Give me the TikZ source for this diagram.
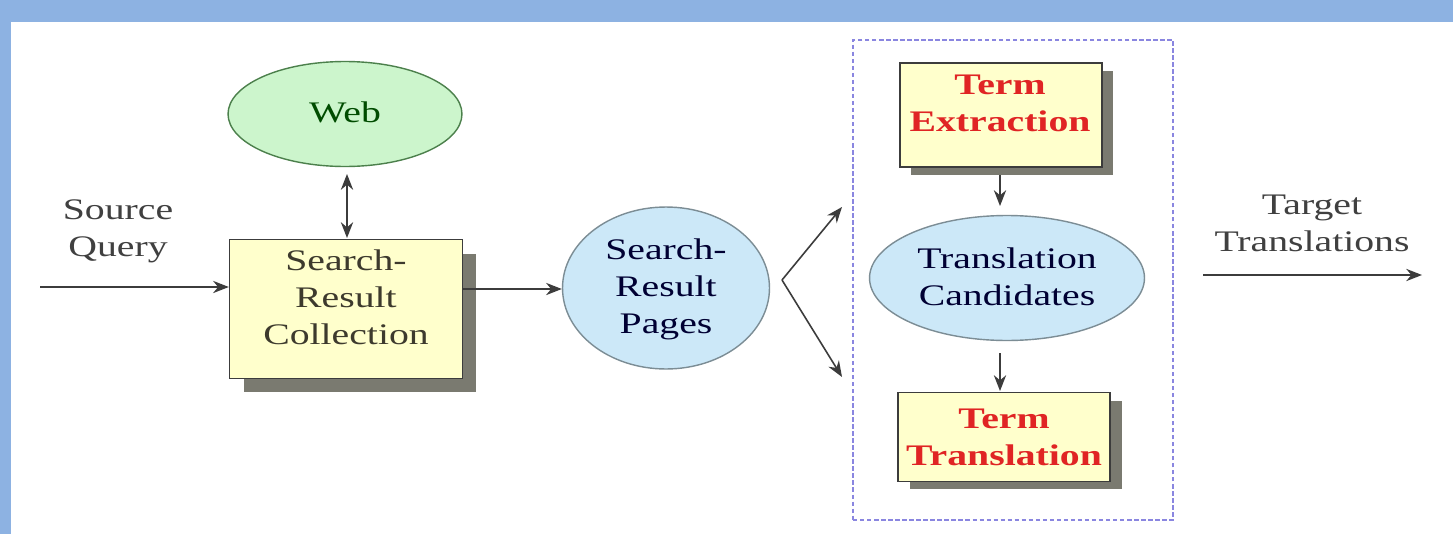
\documentclass[tikz,border=0pt]{standalone}
\usepackage{fontspec}
\setmainfont[FakeStretch=1.33]{Liberation Serif}
\usetikzlibrary{shapes.geometric,arrows.meta}
\definecolor{frameblue}{HTML}{8DB2E2}
\definecolor{boxfill}{HTML}{FFFFCC}
\definecolor{webfill}{HTML}{CCF5CC}
\definecolor{bluefill}{HTML}{CCE8F8}
\definecolor{linegray}{HTML}{3C3C3C}
\definecolor{shadowgray}{HTML}{7A7A70}
\definecolor{termred}{HTML}{E02424}
\definecolor{dashblue}{HTML}{8A86E0}
\tikzset{
  every node/.style={font=\fontsize{17}{21}\selectfont},
  boxnode/.style={draw=linegray, line width=0.8pt, fill=boxfill, rectangle, inner sep=0pt},
  shadowbox/.style={fill=shadowgray, draw=none, rectangle, inner sep=0pt},
  ellnode/.style={ellipse, draw, line width=0.8pt, inner sep=0pt},
  arr/.style={draw=linegray, line width=0.9pt, -{Stealth[length=9pt,width=7pt]}},
  darr/.style={draw=linegray, line width=0.9pt, {Stealth[length=9pt,width=7pt]}-{Stealth[length=9pt,width=7pt]}},
  txt/.style={align=center, inner sep=0pt},
  redtxt/.style={align=center, inner sep=0pt, text=termred, font=\fontsize{17}{21}\selectfont\bfseries},
}
\begin{document}
\begin{tikzpicture}[x=0.02cm, y=-0.02cm]
\useasboundingbox (0,0) rectangle (1453,534);
% frame
\fill[white] (0,0) rectangle (1453,534);
\fill[frameblue] (0,0) rectangle (1453,22);
\fill[frameblue] (0,0) rectangle (11,534);

% Web
\node[ellnode, draw=black!50!green!40!gray, fill=webfill, minimum width=4.68cm, minimum height=2.1cm] (web) at (345,114) {};
\node[txt, text=black!70!green] (webtxt) at (345,112) {Web};

% Search-Result Collection
\node[shadowbox, minimum width=4.66cm, minimum height=2.78cm] (srcshadow) at (360,323) {};
\node[boxnode, minimum width=4.66cm, minimum height=2.78cm] (src) at (346,309) {};
\node[txt, text=black!75!olive] (srctxt) at (346,297) {Search-\\Result\\Collection};

% Source query label
\node[txt, text=black!75] (srcq) at (118,231) {Source\\Query};
\coordinate (inStart) at (40,287);

% Search-Result Pages
\node[ellnode, draw=black!40!cyan!30!gray, fill=bluefill, minimum width=4.14cm, minimum height=3.24cm] (srp) at (666,288) {};
\node[txt, text=black!80!blue] (srptxt) at (666,289) {Search-\\Result\\Pages};

% dashed container
\node[draw=dashblue, dash pattern=on 2.5pt off 1.5pt, line width=1pt, rectangle, inner sep=0pt, minimum width=6.4cm, minimum height=9.6cm] (group) at (1013,280) {};

% Term Extraction
\node[shadowbox, minimum width=4.04cm, minimum height=2.08cm] (teshadow) at (1012,123) {};
\node[boxnode, minimum width=4.04cm, minimum height=2.08cm] (te) at (1001,115) {};
\node[redtxt] (tetxt) at (1000,103) {Term\\Extraction};

% Translation Candidates
\node[ellnode, draw=black!40!cyan!30!gray, fill=bluefill, minimum width=5.5cm, minimum height=2.5cm] (tc) at (1007,278) {};
\node[txt, text=black!80!blue] (tctxt) at (1007,277) {Translation\\Candidates};

% Term Translation
\node[shadowbox, minimum width=4.24cm, minimum height=1.78cm] (ttshadow) at (1016,445) {};
\node[boxnode, minimum width=4.24cm, minimum height=1.78cm] (tt) at (1004,437) {};
\node[redtxt] (tttxt) at (1004,437) {Term\\Translation};

% Target
\node[txt, text=black!75] (tgt) at (1312,223) {Target\\Translations};
\coordinate (outStart) at (1203,275);
\coordinate (outEnd) at (1422,275);

% fork
\coordinate (fork) at (782,280);
\coordinate (forkUp) at (842,207);
\coordinate (forkDown) at (842,377);
\coordinate (webBot) at (347,174);
\coordinate (srcTop) at (347,238);
\coordinate (teBot) at (1000,175);
\coordinate (tcTop) at (1000,206);
\coordinate (tcBot) at (1000,353);
\coordinate (ttTop) at (1000,391);

% connectors
\draw[arr] (inStart) -- (src.west |- inStart);
\draw[arr] (src.east |- 0,289) -- (srp.west |- 0,289);
\draw[darr] (webBot) -- (srcTop);
\draw[arr] (fork) -- (forkUp);
\draw[arr] (fork) -- (forkDown);
\draw[arr] (teBot) -- (tcTop);
\draw[arr] (tcBot) -- (ttTop);
\draw[arr] (outStart) -- (outEnd);
\end{tikzpicture}
\end{document}
